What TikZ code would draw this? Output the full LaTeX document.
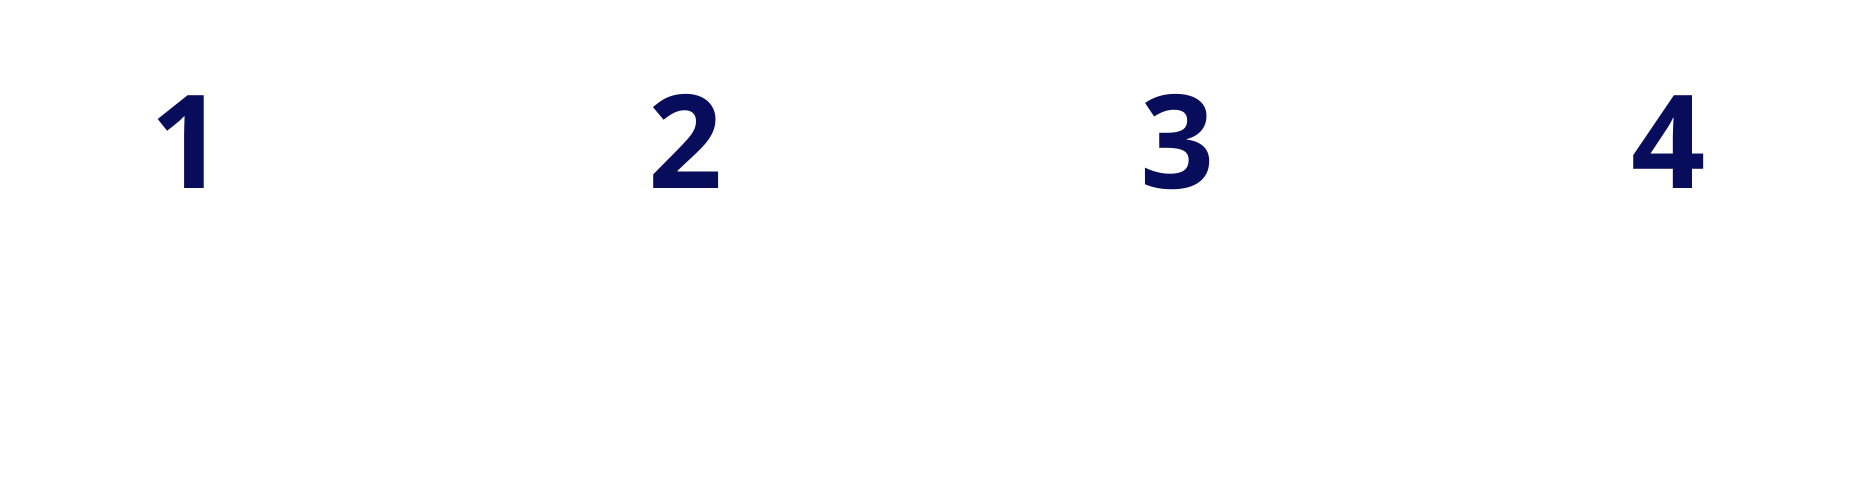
\documentclass[tikz,border=0pt]{standalone}
\usepackage{fontspec}
\setmainfont{Open Sans}
\definecolor{navy}{RGB}{7,13,90}
\begin{document}
\begin{tikzpicture}[x=1pt,y=1pt]
  \useasboundingbox (0,0) rectangle (1863,484);
  \tikzset{digit/.style={navy,inner sep=0pt,anchor=base,font=\fontsize{130}{130}\selectfont\bfseries}}
  \node[digit] (D1) at (188, 295) {1};
  \node[digit] (D2) at (686, 295) {2};
  \node[digit] (D3) at (1178, 295) {3};
  \node[digit] (D4) at (1669, 295) {4};
\end{tikzpicture}
\end{document}
